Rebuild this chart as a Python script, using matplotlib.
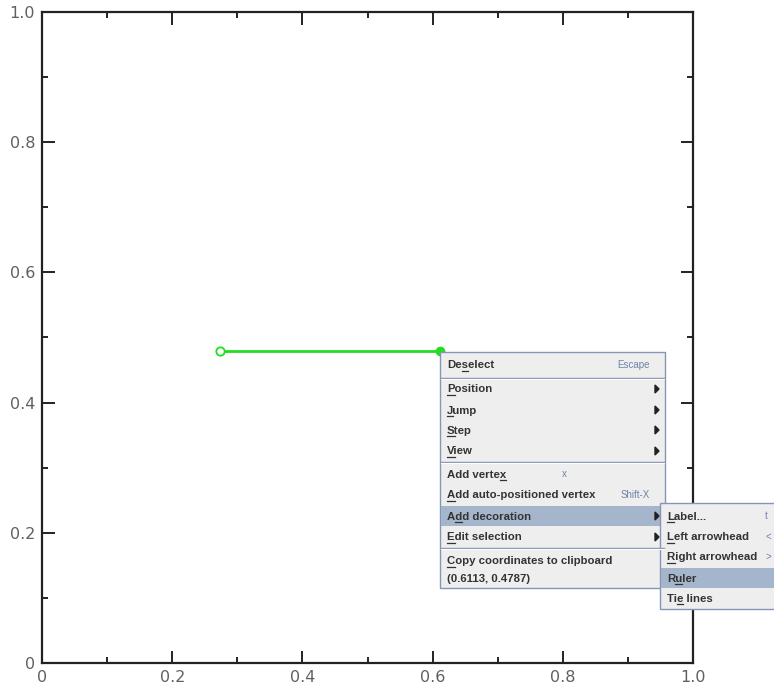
import matplotlib.pyplot as plt
from matplotlib.patches import Rectangle, Polygon
from matplotlib.ticker import MultipleLocator, FuncFormatter

# data
line_x = [0.2727, 0.6113]
line_y = [0.4787, 0.4787]

# context menu: (label, underline index, shortcut, has submenu)
menu_items = [
    ("Deselect", 2, "Escape", False),
    None,
    ("Position", 0, "", True),
    ("Jump", 0, "", True),
    ("Step", 0, "", True),
    ("View", 0, "", True),
    None,
    ("Add vertex", 9, "x", False),
    ("Add auto-positioned vertex", 0, "Shift-X", False),
    ("Add decoration", 1, "", True),
    ("Edit selection", 0, "", True),
    None,
    ("Copy coordinates to clipboard", 0, "", False),
    ("(0.6113, 0.4787)", -1, "", False),
]
menu_rows_y = [365, 378, 389, 410, 430, 451, 462, 474, 495, 516, 537, 548, 561, 578]
menu_highlight = "Add decoration"

sub_items = [
    ("Label...", 0, "t"),
    ("Left arrowhead", 0, "<"),
    ("Right arrowhead", 0, ">"),
    ("Ruler", 1, ""),
    ("Tie lines", 2, ""),
]
sub_rows_y = [516, 537, 557, 578, 598]
sub_highlight = "Ruler"

W, H = 774, 687
fig = plt.figure(figsize=(W / 100, H / 100), dpi=100)
ax = fig.add_axes([42 / W, 24 / H, 651 / W, 651 / H])
ax.set_xlim(0, 1)
ax.set_ylim(0, 1)
ax.xaxis.set_major_locator(MultipleLocator(0.2))
ax.yaxis.set_major_locator(MultipleLocator(0.2))
ax.xaxis.set_minor_locator(MultipleLocator(0.1))
ax.yaxis.set_minor_locator(MultipleLocator(0.1))
fmt = FuncFormatter(lambda v, p: "0" if abs(v) < 1e-9 else f"{v:.1f}")
ax.xaxis.set_major_formatter(fmt)
ax.yaxis.set_major_formatter(fmt)
ax.tick_params(which="both", direction="in", top=True, right=True, width=1.4,
               color="#222222", labelsize=11.5, labelcolor="#606060", pad=5)
ax.tick_params(which="major", length=9)
ax.tick_params(which="minor", length=4)
for s in ax.spines.values():
    s.set_linewidth(1.6)
    s.set_color("#222222")

green = "#22dd22"
ax.plot(line_x, line_y, color=green, lw=2, zorder=3)
ax.plot(line_x[0], line_y[0], "o", mfc="white", mec=green, mew=1.3, ms=6, zorder=4)
ax.plot(line_x[1], line_y[1], "o", color=green, ms=6, zorder=4)

# overlay in pixel coordinates for the popup menu
ov = fig.add_axes([0, 0, 1, 1], zorder=10)
ov.set_xlim(0, W)
ov.set_ylim(H, 0)
ov.axis("off")
ov.patch.set_alpha(0)

bg = "#eeeeee"
border = "#8596b4"
hl = "#a5b6cc"
txt = "#333333"
sc_col = "#6f82aa"
font = "Liberation Sans"
fs = 8.2

fig.canvas.draw()
renderer = fig.canvas.get_renderer()


def text_width(s):
    t = ov.text(0, 0, s, fontsize=fs, fontweight="bold", family=font)
    bb = t.get_window_extent(renderer)
    t.remove()
    return bb.width


def item(x0, y, label, uidx, color=txt):
    ov.text(x0, y + 0.5, label, fontsize=fs, fontweight="bold", family=font,
            color=color, va="center", ha="left")
    if uidx >= 0:
        a = text_width(label[:uidx])
        b = text_width(label[:uidx + 1])
        ov.plot([x0 + a, x0 + b], [y + 6, y + 6], color=color, lw=0.9)


def arrow(x, y):
    ov.add_patch(Polygon([[x, y - 4], [x, y + 4], [x + 4, y]], color="#222222"))


# main menu
mx0, mx1, my0, my1 = 440, 665, 352, 588
ov.add_patch(Rectangle((mx0, my0), mx1 - mx0, my1 - my0, fc=bg, ec=border, lw=1))
for it, y in zip(menu_items, menu_rows_y):
    if it is None:
        ov.plot([mx0 + 1, mx1 - 1], [y, y], color=border, lw=1)
        ov.plot([mx0 + 1, mx1 - 1], [y + 1, y + 1], color="white", lw=0.8)
        continue
    label, uidx, sc, sub = it
    if label == menu_highlight:
        ov.add_patch(Rectangle((mx0 + 1, y - 10), mx1 - mx0 - 2, 20, fc=hl, ec="none"))
    item(447, y, label, uidx)
    if sc:
        ov.text(650 if len(sc) > 1 else 562, y, sc, fontsize=7, family=font,
                color=sc_col, va="center", ha="right" if len(sc) > 1 else "left")
    if sub:
        arrow(655, y)

# submenu
sx0, sx1, sy0, sy1 = 660, 780, 503, 609
ov.add_patch(Rectangle((sx0, sy0), sx1 - sx0, sy1 - sy0, fc=bg, ec=border, lw=1))
for (label, uidx, sc), y in zip(sub_items, sub_rows_y):
    if label == sub_highlight:
        ov.add_patch(Rectangle((sx0 + 1, y - 10), sx1 - sx0, 20, fc=hl, ec="none"))
    item(667, y, label, uidx)
    if sc:
        ov.text(765, y, sc, fontsize=7, family=font, color=sc_col,
                va="center", ha="left")

fig.savefig("out.png", dpi=100)
